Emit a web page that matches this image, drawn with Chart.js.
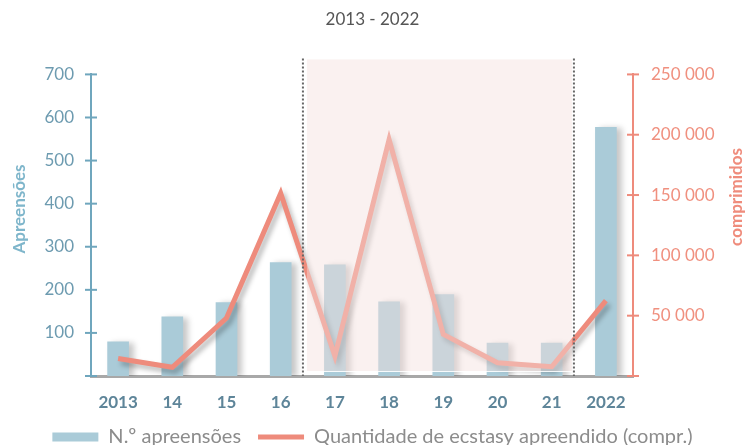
<!DOCTYPE html>
<html>
<head>
<meta charset="utf-8">
<script src="https://cdn.jsdelivr.net/npm/chart.js@4/dist/chart.umd.min.js"></script>
<style>
  html, body { margin: 0; padding: 0; background: #fff; overflow: hidden; }
  #wrap { position: relative; width: 745px; height: 457px; }
</style>
</head>
<body>
<div id="wrap"><canvas id="c"></canvas></div>
<script>
// ---- data ----
const categories = ['2013', '14', '15', '16', '17', '18', '19', '20', '21', '2022'];
const seizures = [80, 138, 171, 264, 259, 173, 190, 77, 77, 578];
const tablets = [14500, 7200, 48000, 151500, 16500, 196000, 34500, 11000, 7700, 62500];
const leftTicks = [0, 100, 200, 300, 400, 500, 600, 700];
const rightTicks = [0, 50000, 100000, 150000, 200000, 250000];
const highlightFrom = 3;   // region between '16' and '17' ...
const highlightTo = 8;     // ... and between '21' and '2022'

const FONT = 'Lato, "Open Sans", sans-serif';
const BLUE = '#aacbd8';
const SALMON = '#ee8b7c';
const AXIS_BLUE = '#6fa6bd';

function fmt(v) { return String(v).replace(/\B(?=(\d{3})+(?!\d))/g, ' '); }

const shadowPlugin = {
  id: 'shadows',
  beforeDatasetDraw(chart, args) {
    const ctx = chart.ctx;
    ctx.save();
    if (args.meta.type === 'bar') {
      ctx.shadowColor = 'rgba(0,0,0,0.22)';
      ctx.shadowBlur = 6; ctx.shadowOffsetX = 5; ctx.shadowOffsetY = 1;
    } else {
      ctx.shadowColor = 'rgba(0,0,0,0.28)';
      ctx.shadowBlur = 5; ctx.shadowOffsetX = 3; ctx.shadowOffsetY = 4;
    }
  },
  afterDatasetDraw(chart) { chart.ctx.restore(); }
};

const regionPlugin = {
  id: 'region',
  afterDatasetsDraw(chart) {
    const ctx = chart.ctx, x = chart.scales.x, a = chart.chartArea;
    const step = x.getPixelForValue(1) - x.getPixelForValue(0);
    const xl = x.getPixelForValue(highlightFrom) + 0.41 * step;
    const xr = x.getPixelForValue(highlightTo) + 0.41 * step;
    const top = a.top - 16, bottom = a.bottom;
    ctx.save();
    ctx.fillStyle = 'rgba(245,225,222,0.45)';
    ctx.fillRect(xl + 4, top + 1, (xr - 2) - (xl + 4), (bottom - 5) - (top + 1));
    ctx.strokeStyle = 'rgba(255,255,255,0.9)';
    ctx.lineWidth = 1.2;
    ctx.beginPath(); ctx.moveTo(xl + 4, bottom - 4.5); ctx.lineTo(xr - 2, bottom - 4.5); ctx.stroke();
    ctx.strokeStyle = '#666';
    ctx.lineWidth = 2;
    ctx.setLineDash([2, 2]);
    [xl, xr].forEach(px => {
      ctx.beginPath(); ctx.moveTo(px, top); ctx.lineTo(px, bottom); ctx.stroke();
    });
    ctx.restore();
  }
};

const axisDecor = {
  id: 'axisDecor',
  afterDraw(chart) {
    const ctx = chart.ctx;
    ctx.save();
    const y = chart.scales.y, y1 = chart.scales.y1;
    ctx.lineWidth = 2;
    ctx.strokeStyle = AXIS_BLUE;
    y.ticks.forEach(t => {
      const py = y.getPixelForValue(t.value);
      ctx.beginPath(); ctx.moveTo(y.right - 6, py); ctx.lineTo(y.right + 6, py); ctx.stroke();
    });
    ctx.strokeStyle = SALMON;
    y1.ticks.forEach(t => {
      const py = y1.getPixelForValue(t.value);
      ctx.beginPath(); ctx.moveTo(y1.left - 6, py); ctx.lineTo(y1.left + 6, py); ctx.stroke();
    });
    // axis titles (read bottom to top)
    ctx.font = 'bold 17px ' + FONT;
    ctx.textAlign = 'center';
    ctx.textBaseline = 'middle';
    ctx.fillStyle = '#7fb6cb';
    ctx.translate(20, 209); ctx.rotate(-Math.PI / 2);
    ctx.fillText('Apreensões', 0, 0);
    ctx.setTransform(1, 0, 0, 1, 0, 0);
    ctx.fillStyle = '#ef8c7c';
    ctx.translate(737, 197); ctx.rotate(-Math.PI / 2);
    ctx.fillText('comprimidos', 0, 0);
    ctx.restore();
  }
};

new Chart(document.getElementById('c'), {
  data: {
    labels: categories,
    datasets: [
      { type: 'line', label: 'Quantidade de ecstasy apreendido (compr.)', data: tablets, yAxisID: 'y1',
        borderColor: SALMON, backgroundColor: SALMON, borderWidth: 5, pointRadius: 0, tension: 0,
        borderJoinStyle: 'miter', order: 0 },
      { type: 'bar', label: 'N.º apreensões', data: seizures, yAxisID: 'y',
        backgroundColor: BLUE, barPercentage: 0.4, categoryPercentage: 1, order: 1 }
    ]
  },
  options: {
    responsive: true, maintainAspectRatio: false, animation: false,
    layout: { padding: { left: 0, right: 0, top: 0, bottom: 0 } },
    plugins: {
      tooltip: { enabled: false },
      title: { display: true, text: '2013 - 2022', color: '#555', font: { family: FONT, size: 17, weight: 'normal' },
               padding: { top: 9, bottom: 45 } },
      legend: {
        position: 'bottom',
        labels: {
          usePointStyle: true, pointStyleWidth: 46, boxHeight: 9, padding: 17,
          color: '#8c8c8c', font: { family: FONT, size: 20 },
          generateLabels: () => [
            { text: 'N.º apreensões', fillStyle: BLUE, strokeStyle: BLUE, lineWidth: 0, pointStyle: 'rect', datasetIndex: 1, hidden: false, fontColor: '#8c8c8c' },
            { text: 'Quantidade de ecstasy apreendido (compr.)', fillStyle: SALMON, strokeStyle: SALMON, lineWidth: 5, pointStyle: 'line', datasetIndex: 0, hidden: false, fontColor: '#8c8c8c' }
          ]
        }
      }
    },
    scales: {
      x: {
        grid: { display: false, drawTicks: false },
        border: { display: true, color: '#a8a8a8', width: 3 },
        ticks: { color: '#5e8599', font: { family: FONT, size: 17, weight: 'bold' }, padding: 16 },
        afterFit: s => { s.height = 34; }
      },
      y: {
        position: 'left', min: 0, max: 700,
        afterBuildTicks: s => { s.ticks = leftTicks.map(v => ({ value: v })); },
        grid: { display: false, drawTicks: false },
        border: { display: true, color: AXIS_BLUE, width: 2 },
        ticks: { color: '#6d9bb0', font: { family: FONT, size: 17 }, padding: 17,
                 callback: v => v === 0 ? '' : fmt(v) },
        afterFit: s => { s.width = 91; }
      },
      y1: {
        position: 'right', min: 0, max: 250000,
        afterBuildTicks: s => { s.ticks = rightTicks.map(v => ({ value: v })); },
        grid: { display: false, drawTicks: false },
        border: { display: true, color: SALMON, width: 2 },
        ticks: { color: '#f0907f', font: { family: FONT, size: 17 }, padding: 18,
                 callback: v => v === 0 ? '' : fmt(v) },
        afterFit: s => { s.width = 112; }
      }
    }
  },
  plugins: [shadowPlugin, regionPlugin, axisDecor]
});
</script>
</body>
</html>
